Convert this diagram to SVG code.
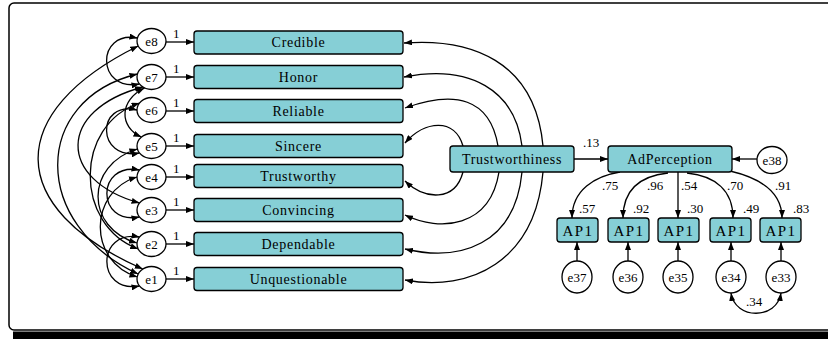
<svg xmlns="http://www.w3.org/2000/svg" width="828" height="339" viewBox="0 0 828 339">
<defs>
<marker id="ah" viewBox="0 0 8 6" refX="8" refY="3" markerWidth="8" markerHeight="6" markerUnits="userSpaceOnUse" orient="auto-start-reverse">
<path d="M0,0 L8,3 L0,6 z" fill="#000"/>
</marker>
<style>
.box{fill:#86CFD6;stroke:#000;stroke-width:1.3}
.err{fill:#fff;stroke:#000;stroke-width:1.3}
.t{font-family:"Liberation Serif","Times New Roman",serif;font-size:14px;text-anchor:middle;fill:#000;letter-spacing:0.7px}
.te{font-family:"Liberation Serif","Times New Roman",serif;font-size:13px;text-anchor:middle;fill:#000}
.ap{font-family:"Liberation Serif","Times New Roman",serif;font-size:15px;text-anchor:middle;fill:#000;letter-spacing:1.5px}
.n{font-family:"Liberation Serif","Times New Roman",serif;font-size:13px;fill:#000}
.one{font-family:"Liberation Serif","Times New Roman",serif;font-size:13px;fill:#000}
.c{fill:none;stroke:#000;stroke-width:1.3;marker-end:url(#ah)}
.cv{fill:none;stroke:#000;stroke-width:1.3;marker-start:url(#ah);marker-end:url(#ah)}
</style>
</defs>
<rect x="9" y="3" width="830" height="327" rx="5" fill="#fff" stroke="#000" stroke-width="1.5"/>
<rect x="13" y="331.5" width="820" height="8" fill="#000"/>

<g id="connectors">
<path class="c" d="M166,42 H194"/>
<path class="c" d="M166,77 H194"/>
<path class="c" d="M166,111 H194"/>
<path class="c" d="M166,146 H194"/>
<path class="c" d="M166,177 H194"/>
<path class="c" d="M166,210 H194"/>
<path class="c" d="M166,244 H194"/>
<path class="c" d="M166,279 H194"/>
<path class="c" d="M543,146 C535,60 470,38 404,43"/>
<path class="c" d="M522,146 C515,90 470,64 404,77"/>
<path class="c" d="M498,146 C490,98 455,90 405,108"/>
<path class="c" d="M463,146 C455,118 425,120 405,143"/>
<path class="c" d="M463,172 C455,202 425,200 405,181"/>
<path class="c" d="M499,172 C490,228 440,232 405,215"/>
<path class="c" d="M522,172 C515,245 460,262 405,249"/>
<path class="c" d="M543,172 C535,262 470,292 405,280"/>
<path class="c" d="M574,159 H608"/>
<path class="c" d="M757,159 H732"/>
<path class="c" d="M620,172 C595,176 572,190 572,218"/>
<path class="c" d="M668,173 C640,176 623,190 623,218"/>
<path class="c" d="M678,172 V218"/>
<path class="c" d="M687,173 C715,176 733,190 733,218"/>
<path class="c" d="M730,171 C760,178 782,192 782,218"/>
<path class="c" d="M577,261 V242"/>
<path class="c" d="M628,261 V242"/>
<path class="c" d="M678,261 V242"/>
<path class="c" d="M731,261 V242"/>
<path class="c" d="M781,261 V242"/>
<path class="cv" d="M731,293 C735,320 777,320 781,293"/>
<path class="cv" d="M137.4,38 C96,30 96,92 139.5,84"/>
<path class="cv" d="M137,110 C96,100 96,161 139.5,153"/>
<path class="cv" d="M139.5,170 C96,162 96,225 139.5,217"/>
<path class="cv" d="M139.5,237 C96,229 96,294 139.5,286"/>
<path class="cv" d="M138.2,46 C4,112 4,208 142.8,269"/>
<path class="cv" d="M137.4,74 C31,100 31,225 138.2,274"/>
<path class="cv" d="M142.8,87 C57,110 57,180 139.5,203"/>
<path class="cv" d="M144.6,88 C119,100 119,127 141.4,137"/>
<path class="cv" d="M139.5,103 C74,125 74,225 138.2,249"/>
<path class="cv" d="M137.4,149 C85,165 85,228 137,243"/>
<path class="cv" d="M137,177 C88,192 88,262 137.4,277"/>
</g>

<g id="labels">
<text class="one" x="173" y="38">1</text>
<text class="one" x="173" y="73">1</text>
<text class="one" x="173" y="107">1</text>
<text class="one" x="173" y="142">1</text>
<text class="one" x="173" y="173">1</text>
<text class="one" x="173" y="206">1</text>
<text class="one" x="173" y="240">1</text>
<text class="one" x="173" y="275">1</text>
<text class="n" x="583" y="147">.13</text>
<text class="n" x="602" y="190">.75</text>
<text class="n" x="647" y="190">.96</text>
<text class="n" x="681" y="190">.54</text>
<text class="n" x="727" y="190">.70</text>
<text class="n" x="775" y="190">.91</text>
<text class="n" x="579" y="213">.57</text>
<text class="n" x="633" y="213">.92</text>
<text class="n" x="687" y="213">.30</text>
<text class="n" x="743" y="213">.49</text>
<text class="n" x="793" y="213">.83</text>
<text class="n" x="746" y="306">.34</text>
</g>

<g id="e8"><ellipse class="err" cx="151.5" cy="41" rx="14.5" ry="12.5"/><text class="te" x="151.5" y="45.5">e8</text></g>
<g id="e7"><ellipse class="err" cx="151.5" cy="77" rx="14.5" ry="12.5"/><text class="te" x="151.5" y="81.5">e7</text></g>
<g id="e6"><ellipse class="err" cx="151.5" cy="110" rx="14.5" ry="12.5"/><text class="te" x="151.5" y="114.5">e6</text></g>
<g id="e5"><ellipse class="err" cx="151.5" cy="146" rx="14.5" ry="12.5"/><text class="te" x="151.5" y="150.5">e5</text></g>
<g id="e4"><ellipse class="err" cx="151.5" cy="177" rx="14.5" ry="12.5"/><text class="te" x="151.5" y="181.5">e4</text></g>
<g id="e3"><ellipse class="err" cx="151.5" cy="210" rx="14.5" ry="12.5"/><text class="te" x="151.5" y="214.5">e3</text></g>
<g id="e2"><ellipse class="err" cx="151.5" cy="244" rx="14.5" ry="12.5"/><text class="te" x="151.5" y="248.5">e2</text></g>
<g id="e1"><ellipse class="err" cx="151.5" cy="279" rx="14.5" ry="12.5"/><text class="te" x="151.5" y="283.5">e1</text></g>

<g id="credible"><rect class="box" x="194" y="31" width="209" height="23" rx="3"/><text class="t" x="298.5" y="47">Credible</text></g>
<g id="honor"><rect class="box" x="194" y="65.5" width="209" height="23" rx="3"/><text class="t" x="298.5" y="82">Honor</text></g>
<g id="reliable"><rect class="box" x="194" y="99.5" width="209" height="23" rx="3"/><text class="t" x="298.5" y="116">Reliable</text></g>
<g id="sincere"><rect class="box" x="194" y="134.5" width="209" height="23" rx="3"/><text class="t" x="298.5" y="151">Sincere</text></g>
<g id="trustworthy"><rect class="box" x="194" y="164.5" width="209" height="23" rx="3"/><text class="t" x="298.5" y="181">Trustworthy</text></g>
<g id="convincing"><rect class="box" x="194" y="198.5" width="209" height="23" rx="3"/><text class="t" x="298.5" y="215">Convincing</text></g>
<g id="dependable"><rect class="box" x="194" y="232.5" width="209" height="23" rx="3"/><text class="t" x="298.5" y="249">Dependable</text></g>
<g id="unquestionable"><rect class="box" x="194" y="267.5" width="209" height="23" rx="3"/><text class="t" x="298.5" y="284">Unquestionable</text></g>

<g id="trustworthiness"><rect class="box" x="450" y="146" width="124" height="26" rx="3"/><text class="t" x="512" y="164">Trustworthiness</text></g>
<g id="adperception"><rect class="box" x="608" y="146" width="124" height="26" rx="3"/><text class="t" x="670" y="164">AdPerception</text></g>
<g id="e38"><ellipse class="err" cx="772" cy="160" rx="15" ry="13.5"/><text class="te" x="772" y="164.5">e38</text></g>

<g id="ap1a"><rect class="box" x="557" y="218" width="41" height="24" rx="3"/><text class="ap" x="578" y="235.5">AP1</text></g>
<g id="ap1b"><rect class="box" x="608" y="218" width="41" height="24" rx="3"/><text class="ap" x="629" y="235.5">AP1</text></g>
<g id="ap1c"><rect class="box" x="658" y="218" width="41" height="24" rx="3"/><text class="ap" x="679" y="235.5">AP1</text></g>
<g id="ap1d"><rect class="box" x="710" y="218" width="41" height="24" rx="3"/><text class="ap" x="731" y="235.5">AP1</text></g>
<g id="ap1e"><rect class="box" x="760" y="218" width="41" height="24" rx="3"/><text class="ap" x="781" y="235.5">AP1</text></g>

<g id="e37"><ellipse class="err" cx="577" cy="277" rx="15" ry="16"/><text class="te" x="577" y="281.5">e37</text></g>
<g id="e36"><ellipse class="err" cx="628" cy="277" rx="15" ry="16"/><text class="te" x="628" y="281.5">e36</text></g>
<g id="e35"><ellipse class="err" cx="678" cy="277" rx="15" ry="16"/><text class="te" x="678" y="281.5">e35</text></g>
<g id="e34"><ellipse class="err" cx="731" cy="277" rx="15" ry="16"/><text class="te" x="731" y="281.5">e34</text></g>
<g id="e33"><ellipse class="err" cx="781" cy="277" rx="15" ry="16"/><text class="te" x="781" y="281.5">e33</text></g>
</svg>
